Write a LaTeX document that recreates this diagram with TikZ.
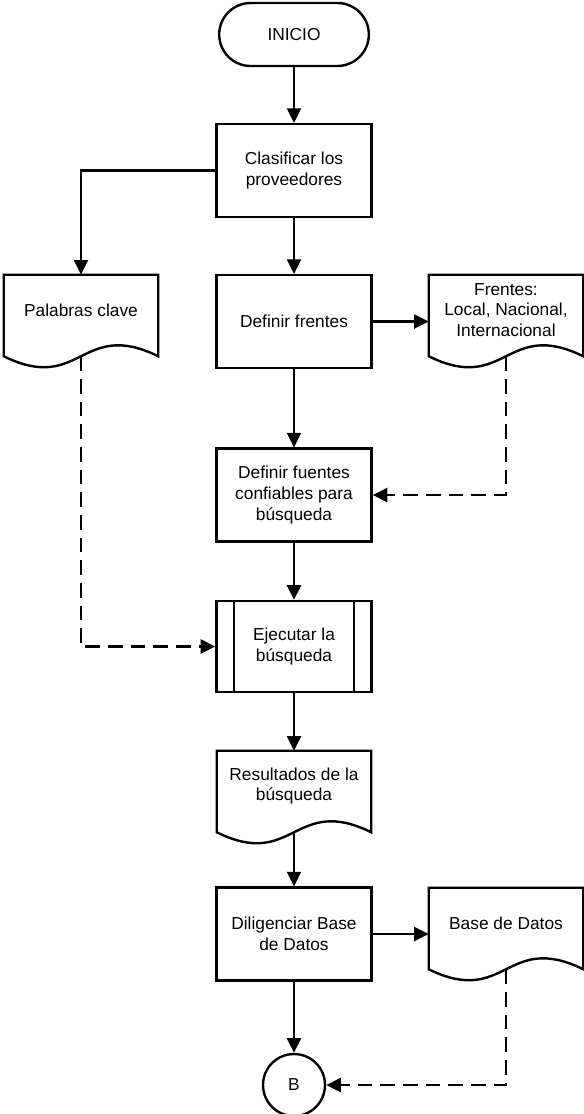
\documentclass[tikz,border=0pt]{standalone}
\usepackage{fontspec}
\setmainfont{Liberation Sans}
\usetikzlibrary{arrows.meta, shapes.misc}

% document symbol: outline with wavy bottom round a text node
\newcommand{\docoutline}[1]{%
  \draw[shapeline] (#1.north west) -- (#1.north east) -- ([yshift=-8.25pt]#1.south east)
    .. controls ([yshift=20.25pt]#1.south) and ([yshift=-36.75pt]#1.south) .. ([yshift=-8.25pt]#1.south west) -- cycle;}

\begin{document}
\begin{tikzpicture}[
        x=0.75pt, y=-0.75pt,
        every node/.style={font=\fontsize{13}{15.5}\selectfont, align=center, inner sep=2pt},
        shapeline/.style={line width=1.8pt},
        process/.style={draw, shapeline, rectangle, minimum width=116.25pt, minimum height=69.5pt},
        terminal/.style={draw, shapeline, rounded rectangle, minimum width=116.25pt, minimum height=47.25pt},
        docnode/.style={rectangle, minimum width=115.5pt, minimum height=52.5pt},
        connector/.style={draw, shapeline, circle, minimum size=46.5pt},
        arrow/.style={-{Triangle[length=11pt, width=10.5pt]}, line width=1.8pt},
        dasharrow/.style={arrow, dash pattern=on 11pt off 6pt}
    ]
        \useasboundingbox (0,0) rectangle (584,1114);

        % === Main column ===
        \node[terminal] (ini) at (294, 34.5) {INICIO};
        \node[process] (cla) at (294, 170.5) {Clasificar los\\proveedores};
        \node[process] (def) at (294, 321.5) {Definir frentes};
        \node[process] (fue) at (294, 495) {Definir fuentes\\confiables para\\búsqueda};
        \node[process, minimum height=68.25pt] (eje) at (294, 646.5) {Ejecutar la\\búsqueda};
        \node[docnode] (res) at (294, 786) {Resultados de la\\búsqueda};
        \node[process] (dil) at (294, 934) {Diligenciar Base\\de Datos};
        \node[connector] (B) at (294, 1085) {B};

        % side bars of the predefined process
        \draw[shapeline] ([xshift=13.9pt]eje.north west) -- ([xshift=13.9pt]eje.south west);
        \draw[shapeline] ([xshift=-13.9pt]eje.north east) -- ([xshift=-13.9pt]eje.south east);

        % === Side documents ===
        \node[docnode] (pal) at (81, 310) {Palabras clave};
        \node[docnode] (fre) at (506, 310) {Frentes:\\Local, Nacional,\\Internacional};
        \node[docnode] (bas) at (506, 923) {Base de Datos};

        \docoutline{res}
        \docoutline{pal}
        \docoutline{fre}
        \docoutline{bas}

        % middle of the wavy bottoms
        \coordinate (resB) at ([yshift=-8.25pt]res.south);
        \coordinate (palB) at ([yshift=-8.25pt]pal.south);
        \coordinate (freB) at ([yshift=-8.25pt]fre.south);
        \coordinate (basB) at ([yshift=-8.25pt]bas.south);

        % === Flow ===
        \draw[arrow] (ini.south) -- (cla.north);
        \draw[arrow] (cla.west) -| (pal.north);
        \draw[arrow] (cla.south) -- (def.north);
        \draw[arrow] (def.east) -- (def.east -| fre.west);
        \draw[arrow] (def.south) -- (fue.north);
        \draw[dasharrow] (freB) |- (fue.east);
        \draw[arrow] (fue.south) -- (eje.north);
        \draw[dasharrow] (palB) |- (eje.west);
        \draw[arrow] (eje.south) -- (res.north);
        \draw[arrow] (resB) -- (dil.north);
        \draw[arrow] (dil.east) -- (dil.east -| bas.west);
        \draw[arrow] (dil.south) -- (B.north);
        \draw[dasharrow] (basB) |- (B.east);

    \end{tikzpicture}
\end{document}
